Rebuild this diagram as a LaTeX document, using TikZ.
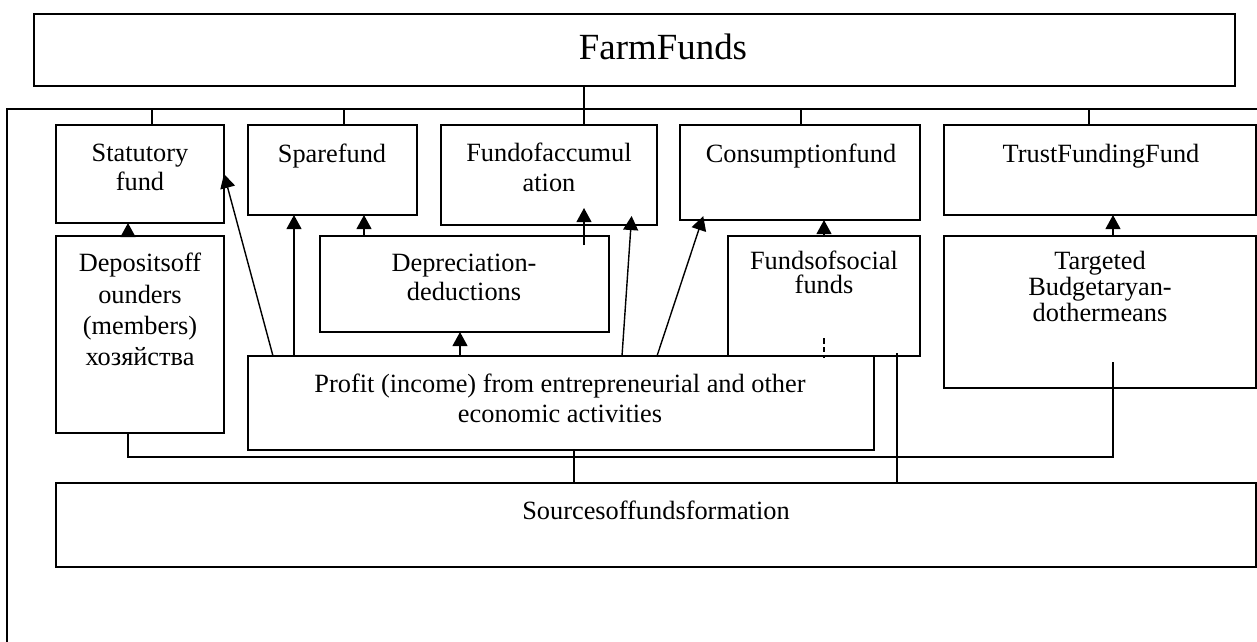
\documentclass[tikz,border=0pt]{standalone}
\usepackage{fontspec}
\setmainfont{Liberation Serif}
\usetikzlibrary{arrows.meta}

\begin{document}
\begin{tikzpicture}[x=0.02cm, y=-0.02cm,
		fundbox/.style 2 args={draw, line width=0.8pt, inner sep=0pt, outer sep=0pt, anchor=north west, minimum width=#1*0.02cm, minimum height=#2*0.02cm},
		lbl/.style={align=center, inner sep=0pt, font=\fontsize{15}{16.5}\selectfont},
		ln/.style={line width=0.8pt},
		arr/.style={line width=0.8pt, -{Triangle[length=8pt,width=8.5pt]}}]
			%%%%% START %%%%%
			\useasboundingbox (0,0) rectangle (1257,642);
			
			\node[fundbox={1201}{72}] (farm) at (34,14) {};
			\node[lbl, font=\fontsize{21}{24}\selectfont] (farmT) at (663,46.5) {FarmFunds};
			
			\node[fundbox={168}{98}] (stat) at (56,125) {};
			\node[fundbox={169}{90}] (spare) at (248,125) {};
			\node[fundbox={216}{100}] (accum) at (441,125) {};
			\node[fundbox={240}{95}] (cons) at (680,125) {};
			\node[fundbox={312}{90}] (trust) at (944,125) {};
			
			\node[lbl] (statT) at (140,167.5) {Statutory\\fund};
			\node[lbl] (spareT) at (332,156) {Sparefund};
			\node[lbl, font=\fontsize{15}{17}\selectfont] (accumT) at (549,167) {Fundofaccumul\\ation};
			\node[lbl] (consT) at (801,156) {Consumptionfund};
			\node[lbl] (trustT) at (1101,156) {TrustFundingFund};
			
			\node[fundbox={168}{197}] (dep) at (56,236) {};
			\node[fundbox={289}{96}] (depr) at (320,236) {};
			\node[fundbox={192}{120}] (soc) at (728,236) {};
			\node[fundbox={312}{152}] (tgt) at (944,236) {};
			
			\node[lbl, font=\fontsize{15}{17.8}\selectfont] (depT) at (140,309.5) {Depositsoff\\ounders\\(members)\\хозяйства};
			\node[lbl] (deprT) at (464,277.5) {Depreciation-\\deductions};
			\node[lbl, font=\fontsize{15}{13.5}\selectfont] (socT) at (824,272.5) {Fundsofsocial\\funds};
			\node[lbl, font=\fontsize{15}{15}\selectfont] (tgtT) at (1100,286.5) {Targeted\\Budgetaryan-\\dothermeans};
			
			\node[fundbox={626}{94}] (prof) at (248,356) {};
			\node[lbl, font=\fontsize{15}{17}\selectfont] (profT) at (560,398) {Profit (income) from entrepreneurial and other\\economic activities};
			
			\node[fundbox={1200}{84}] (src) at (56,483) {};
			\node[lbl] (srcT) at (656,510) {Sourcesoffundsformation};
			
			% frame and top bus
			\coordinate (bus) at (0,109);
			\draw[ln] (7,642) -- (7,109) -- (1257,109);
			\draw[ln] (farm.south -| 584,0) -- (accum.north -| 584,0);
			\foreach \b/\x in {stat/152, spare/344, cons/801, trust/1089}
				\draw[ln] (bus -| \x,0) -- (\b.north -| \x,0);
			
			% arrows up
			\draw[arr] (dep.north -| 128,0) -- (stat.south -| 128,0);
			\draw[arr] (depr.north -| 364,0) -- (spare.south -| 364,0);
			\draw[arr] (soc.north -| 824,0) -- (cons.south -| 824,0);
			\draw[arr] (tgt.north -| 1113,0) -- (trust.south -| 1113,0);
			\draw[arr] (prof.north -| 460,0) -- (depr.south -| 460,0);
			\draw[arr] (prof.north -| 273,0) -- (stat.east);
			\draw[arr] (prof.north -| 294,0) -- (spare.south -| 294,0);
			\draw[arr, shorten >=-0.18cm] (prof.north -| 622,0) -- (accum.south -| 631,0);
			\draw[arr, shorten >=-0.08cm] (prof.north -| 657,0) -- (cons.south -| 702,0);
			
			\coordinate (deprin) at (584,245);
			\draw[arr, shorten >=-0.34cm] (deprin) -- (accum.south -| deprin);
			
			% lower bus
			\coordinate (tgtin) at (1113,362);
			\coordinate (socin) at (897,353);
			\coordinate (low) at (0,457);
			\draw[ln] (dep.south -| 128,0) -- (low -| 128,0) -- (low -| tgtin) -- (tgtin);
			\draw[ln] (prof.south -| 574,0) -- (src.north -| 574,0);
			\draw[ln] (socin) -- (src.north -| socin);
			\draw[ln, dash pattern=on 3pt off 2pt] ([yshift=10pt]soc.south) -- ([yshift=-1pt]soc.south);
			
			%%%%% END %%%%%
\end{tikzpicture}
\end{document}
